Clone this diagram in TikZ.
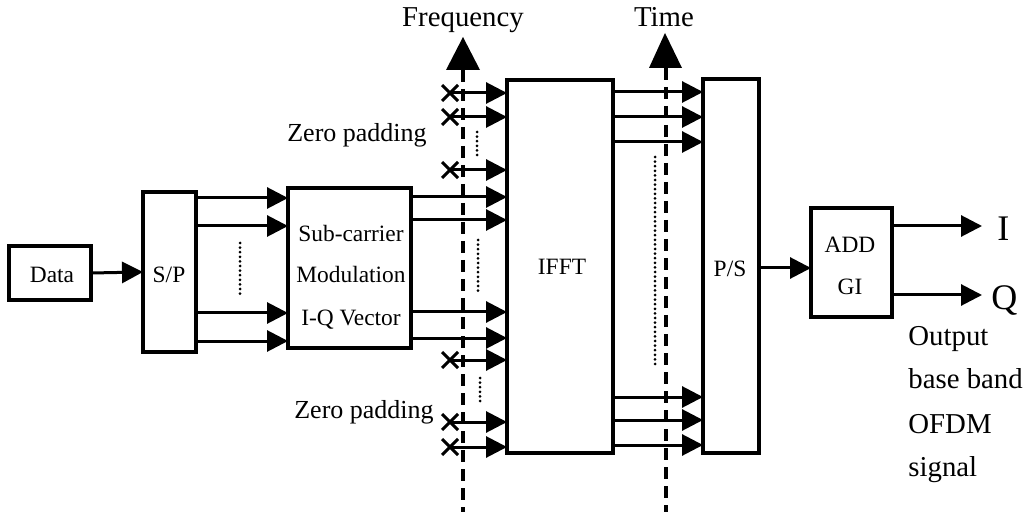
\documentclass[tikz,border=0pt]{standalone}
\usepackage{fontspec}
\setmainfont{Liberation Serif}
\usetikzlibrary{arrows.meta,shapes.misc}
\begin{document}
\begin{tikzpicture}[x=0.5pt,y=-0.5pt,
 box/.style={draw,line width=1.6pt,inner sep=0pt,outer sep=0pt},
 lbl/.style={font=\fontsize{11.7pt}{14pt}\selectfont,inner sep=0pt,anchor=base},
 big/.style={font=\fontsize{14.4pt}{17pt}\selectfont,inner sep=0pt,anchor=base},
 huge/.style={font=\fontsize{18pt}{20pt}\selectfont,inner sep=0pt,anchor=base west},
 arr/.style={line width=1.5pt,-{Triangle[length=10.5pt,width=10.5pt]}},
 zero/.style={cross out,draw,line width=1.5pt,minimum size=6.5pt,inner sep=0pt},
 axisline/.style={line width=1.7pt,dash pattern=on 6pt off 3.5pt},
 dotline/.style={line width=1.5pt,line cap=round,dash pattern=on 0pt off 2.3pt}]
\useasboundingbox (0,0) rectangle (1028,513);

% boxes
\node[box,minimum width=41pt,minimum height=27pt] (data) at (50,273) {};
\node[box,minimum width=26.5pt,minimum height=80pt] (sp) at (169.5,272) {};
\node[box,minimum width=61.5pt,minimum height=80pt] (mod) at (349.5,268) {};
\node[box,minimum width=53pt,minimum height=186.5pt] (ifft) at (560,266.5) {};
\node[box,minimum width=28pt,minimum height=187pt] (ps) at (731,266) {};
\node[box,minimum width=40.5pt,minimum height=54.5pt] (add) at (851.5,262.5) {};

% box texts
\node[lbl] (tdata) at (52,283) {Data};
\node[lbl] (tsp) at (169,283) {S/P};
\node[lbl] (tmod1) at (351,242) {Sub-carrier};
\node[lbl] (tmod2) at (351,283) {Modulation};
\node[lbl] (tmod3) at (351,325) {I-Q Vector};
\node[lbl] (tifft) at (562,275) {IFFT};
\node[lbl] (tps) at (730,277) {P/S};
\node[lbl] (tadd1) at (850,253) {ADD};
\node[lbl] (tadd2) at (850,295) {GI};

% axes
\draw[axisline] (463,70) -- (463,512);
\draw[axisline] (666,68) -- (666,512);
\fill (446,70) -- (463,37) -- (480,70) -- cycle;
\fill (649,68) -- (665,33) -- (682,68) -- cycle;
\node[big] (tfreq) at (463,27) {Frequency};
\node[big] (ttime) at (664,27) {Time};

% data -> S/P
\draw[arr] (data.east) -- (sp.west);

% S/P -> modulation
\foreach \yy in {198,226,313,341}
  \draw[arr] (sp.east |- 0,\yy) -- (mod.west |- 0,\yy);
\draw[dotline] (240,243) -- (240,297);

% modulation -> IFFT
\foreach \yy in {197,220,312,338}
  \draw[arr] (mod.east |- 0,\yy) -- (ifft.west |- 0,\yy);

% zero padding
\node[zero] (z1) at (450,93) {};
\node[zero] (z2) at (450,117) {};
\node[zero] (z3) at (450,170) {};
\node[zero] (z4) at (450,360) {};
\node[zero] (z5) at (450,422) {};
\node[zero] (z6) at (450,447) {};
\foreach \z in {z1,z2,z3,z4,z5,z6}
  \draw[arr] (\z.center) -- (ifft.west |- \z.center);
\draw[dotline] (477,132) -- (477,157);
\draw[dotline] (478,240) -- (478,293);
\draw[dotline] (480,378) -- (480,405);
\node[big,font=\fontsize{13pt}{15pt}\selectfont] (tzp1) at (357,142) {Zero padding};
\node[big,font=\fontsize{13pt}{15pt}\selectfont] (tzp2) at (364,418) {Zero padding};

% IFFT -> P/S
\foreach \yy in {92,117,142,397,420,445}
  \draw[arr] (ifft.east |- 0,\yy) -- (ps.west |- 0,\yy);
\draw[dotline] (655,157) -- (655,368);

% P/S -> ADD GI
\draw[arr] (ps.east |- 0,268) -- (add.west |- 0,268);

% outputs
\coordinate (iend) at (982,226);
\coordinate (qend) at (982,295);
\draw[arr] (add.east |- iend) -- (iend);
\draw[arr] (add.east |- qend) -- (qend);
\node[huge] (ti) at (997,241) {I};
\node[huge] (tq) at (991,309) {Q};

\node[big,anchor=base west] (to1) at (908,345) {Output};
\node[big,anchor=base west] (to2) at (908,388) {base band};
\node[big,anchor=base west] (to3) at (908,433) {OFDM};
\node[big,anchor=base west] (to4) at (908,476) {signal};
\end{tikzpicture}
\end{document}
